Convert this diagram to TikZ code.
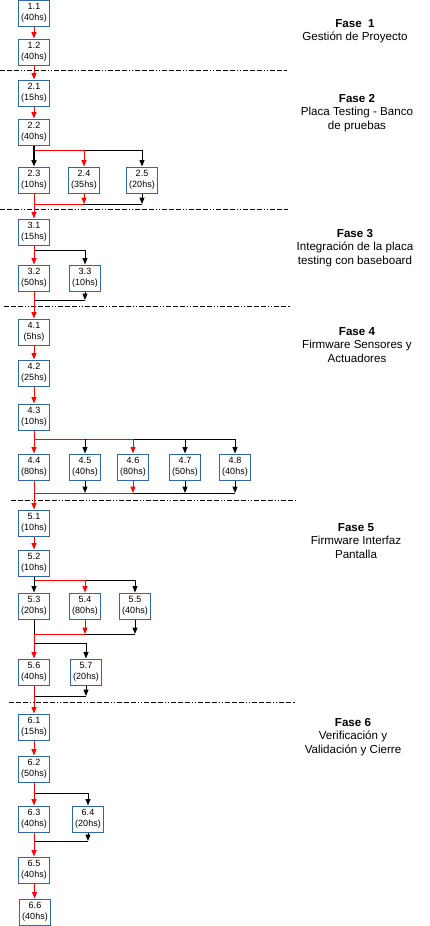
\documentclass[tikz,border=0pt]{standalone}
\usepackage{fontspec}
\setmainfont{Liberation Sans}
\usetikzlibrary{arrows.meta}
\definecolor{taskblue}{HTML}{3465A4}

\begin{document}
\begin{tikzpicture}[x=1pt,y=-1pt,
        task/.style={draw=taskblue,line width=1pt,minimum width=31pt,minimum height=26pt,
            inner sep=0pt,align=center,font=\fontsize{9}{10.5}\selectfont},
        crit/.style={red,line width=1pt,-{Triangle[length=6.5pt,width=5pt]}},
        norm/.style={black,line width=1pt,-{Triangle[length=6.5pt,width=5pt]}},
        critline/.style={red,line width=1pt},
        normline/.style={black,line width=1pt},
        sep/.style={line width=0.9pt,dash pattern=on 5pt off 2pt on 5pt off 2pt on 5pt off 2pt on 1pt off 2pt on 1pt off 2pt},
        fase/.style={align=center,font=\fontsize{11.6}{13.3}\selectfont}]
        \useasboundingbox (0,0) rectangle (429,926);

        % fase 1
        \node[task] (11) at (34,13) {1.1\\(40hs)};
        \node[task] (12) at (34,52) {1.2\\(40hs)};
        \node[fase] (f1) at (355,31) {\textbf{Fase~ 1}\\Gestión de Proyecto};
        \draw[sep] (0,70) -- (287,70);

        % fase 2
        \node[task] (21) at (34,93) {2.1\\(15hs)};
        \node[task] (22) at (34,132) {2.2\\(40hs)};
        \node[task] (23) at (34,180) {2.3\\(10hs)};
        \node[task] (24) at (84,180) {2.4\\(35hs)};
        \node[task] (25) at (142,180) {2.5\\(20hs)};
        \node[fase] (f2) at (357,113) {\textbf{Fase 2}\\Placa Testing - Banco\\de pruebas};
        \coordinate (s2) at (34,150);
        \coordinate (m2) at (34,204);
        \draw[sep] (0,209) -- (288,209);

        % fase 3
        \node[task] (31) at (34,232) {3.1\\(15hs)};
        \node[task] (32) at (34,278) {3.2\\(50hs)};
        \node[task] (33) at (85,278) {3.3\\(10hs)};
        \node[fase] (f3) at (355,248) {\textbf{Fase 3}\\Integración de la placa\\testing con baseboard};
        \coordinate (s3) at (34,250);
        \coordinate (m3) at (34,300);
        \draw[sep] (4,306) -- (290,306);

        % fase 4
        \node[task] (41) at (34,332) {4.1\\(5hs)};
        \node[task] (42) at (34,373) {4.2\\(25hs)};
        \node[task] (43) at (34,417) {4.3\\(10hs)};
        \node[task] (44) at (34,467) {4.4\\(80hs)};
        \node[task] (45) at (85,467) {4.5\\(40hs)};
        \node[task] (46) at (133,467) {4.6\\(80hs)};
        \node[task] (47) at (185,467) {4.7\\(50hs)};
        \node[task] (48) at (235,467) {4.8\\(40hs)};
        \node[fase] (f4) at (357,345) {\textbf{Fase 4}\\Firmware Sensores y\\Actuadores};
        \coordinate (s4) at (34,439);
        \coordinate (m4) at (34,493);
        \draw[sep] (11,500) -- (296,500);

        % fase 5
        \node[task] (51) at (34,523) {5.1\\(10hs)};
        \node[task] (52) at (34,563) {5.2\\(10hs)};
        \node[task] (53) at (34,606) {5.3\\(20hs)};
        \node[task] (54) at (85,606) {5.4\\(80hs)};
        \node[task] (55) at (135,606) {5.5\\(40hs)};
        \node[task] (56) at (34,672) {5.6\\(40hs)};
        \node[task] (57) at (86,672) {5.7\\(20hs)};
        \node[fase] (f5) at (356,541) {\textbf{Fase 5}\\Firmware Interfaz\\Pantalla};
        \coordinate (s5) at (34,580);
        \coordinate (m5) at (34,634);
        \coordinate (s5b) at (34,643);
        \coordinate (m5b) at (34,696);
        \draw[sep] (9,702) -- (295,702);

        % fase 6
        \node[task] (61) at (34,727) {6.1\\(15hs)};
        \node[task] (62) at (34,769) {6.2\\(50hs)};
        \node[task] (63) at (34,819) {6.3\\(40hs)};
        \node[task] (64) at (88,819) {6.4\\(20hs)};
        \node[task] (65) at (34,870) {6.5\\(40hs)};
        \node[task] (66) at (35,912) {6.6\\(40hs)};
        \node[fase] (f6) at (353,737) {\textbf{Fase 6}\\Verificación y\\Validación y Cierre};
        \coordinate (s6) at (34,793);
        \coordinate (m6) at (34,841);

        % camino 1 y 2
        \path[draw,crit] (11) -- (12);
        \path[draw,crit] (12) -- (21);
        \path[draw,crit] (21) -- (22);
        \path[draw,critline] (s2) -- (s2 -| 24);
        \path[draw,normline] (s2 -| 24) -- (s2 -| 25);
        \path[draw,norm,line width=1.6pt] (22) -- (23);
        \path[draw,crit] (s2 -| 24) -- (24);
        \path[draw,norm] (s2 -| 25) -- (25);
        \path[draw,crit] (24) -- (m2 -| 24);
        \path[draw,norm] (25) -- (m2 -| 25);
        \path[draw,critline] (m2) -- (m2 -| 24);
        \path[draw,normline] (m2 -| 24) -- (m2 -| 25);
        \path[draw,crit] (23) -- (31);

        % camino 3
        \path[draw,normline] (s3) -- (s3 -| 33);
        \path[draw,norm] (s3 -| 33) -- (33);
        \path[draw,crit] (31) -- (32);
        \path[draw,norm] (33) -- (m3 -| 33);
        \path[draw,normline] (m3) -- (m3 -| 33);
        \path[draw,crit] (32) -- (41);

        % camino 4
        \path[draw,crit] (41) -- (42);
        \path[draw,crit] (42) -- (43);
        \path[draw,critline] (s4) -- (s4 -| 46);
        \path[draw,normline] (s4 -| 46) -- (s4 -| 48);
        \path[draw,crit] (43) -- (44);
        \path[draw,norm] (s4 -| 45) -- (45);
        \path[draw,crit] (s4 -| 46) -- (46);
        \path[draw,norm] (s4 -| 47) -- (47);
        \path[draw,norm] (s4 -| 48) -- (48);
        \path[draw,norm] (45) -- (m4 -| 45);
        \path[draw,crit] (46) -- (m4 -| 46);
        \path[draw,norm] (47) -- (m4 -| 47);
        \path[draw,norm] (48) -- (m4 -| 48);
        \path[draw,critline] (m4) -- (m4 -| 46);
        \path[draw,normline] (m4 -| 46) -- (m4 -| 48);
        \path[draw,crit] (44) -- (51);

        % camino 5
        \path[draw,crit] (51) -- (52);
        \path[draw,critline] (s5) -- (s5 -| 54);
        \path[draw,normline] (s5 -| 54) -- (s5 -| 55);
        \path[draw,norm] (52) -- (53);
        \path[draw,crit] (s5 -| 54) -- (54);
        \path[draw,norm] (s5 -| 55) -- (55);
        \path[draw,crit] (54) -- (m5 -| 54);
        \path[draw,norm] (55) -- (m5 -| 55);
        \path[draw,critline] (m5) -- (m5 -| 54);
        \path[draw,normline] (m5 -| 54) -- (m5 -| 55);
        \path[draw,normline] (53) -- (m5);
        \path[draw,crit] (m5) -- (56);
        \path[draw,normline] (s5b) -- (s5b -| 57);
        \path[draw,norm] (s5b -| 57) -- (57);
        \path[draw,norm] (57) -- (m5b -| 57);
        \path[draw,normline] (m5b) -- (m5b -| 57);
        \path[draw,crit] (56) -- (61);

        % camino 6
        \path[draw,crit] (61) -- (62);
        \path[draw,normline] (s6) -- (s6 -| 64);
        \path[draw,norm] (s6 -| 64) -- (64);
        \path[draw,crit] (62) -- (63);
        \path[draw,norm] (64) -- (m6 -| 64);
        \path[draw,normline] (m6) -- (m6 -| 64);
        \path[draw,crit] (63) -- (65);
        \path[draw,crit] (65) -- (66);
    \end{tikzpicture}
\end{document}
